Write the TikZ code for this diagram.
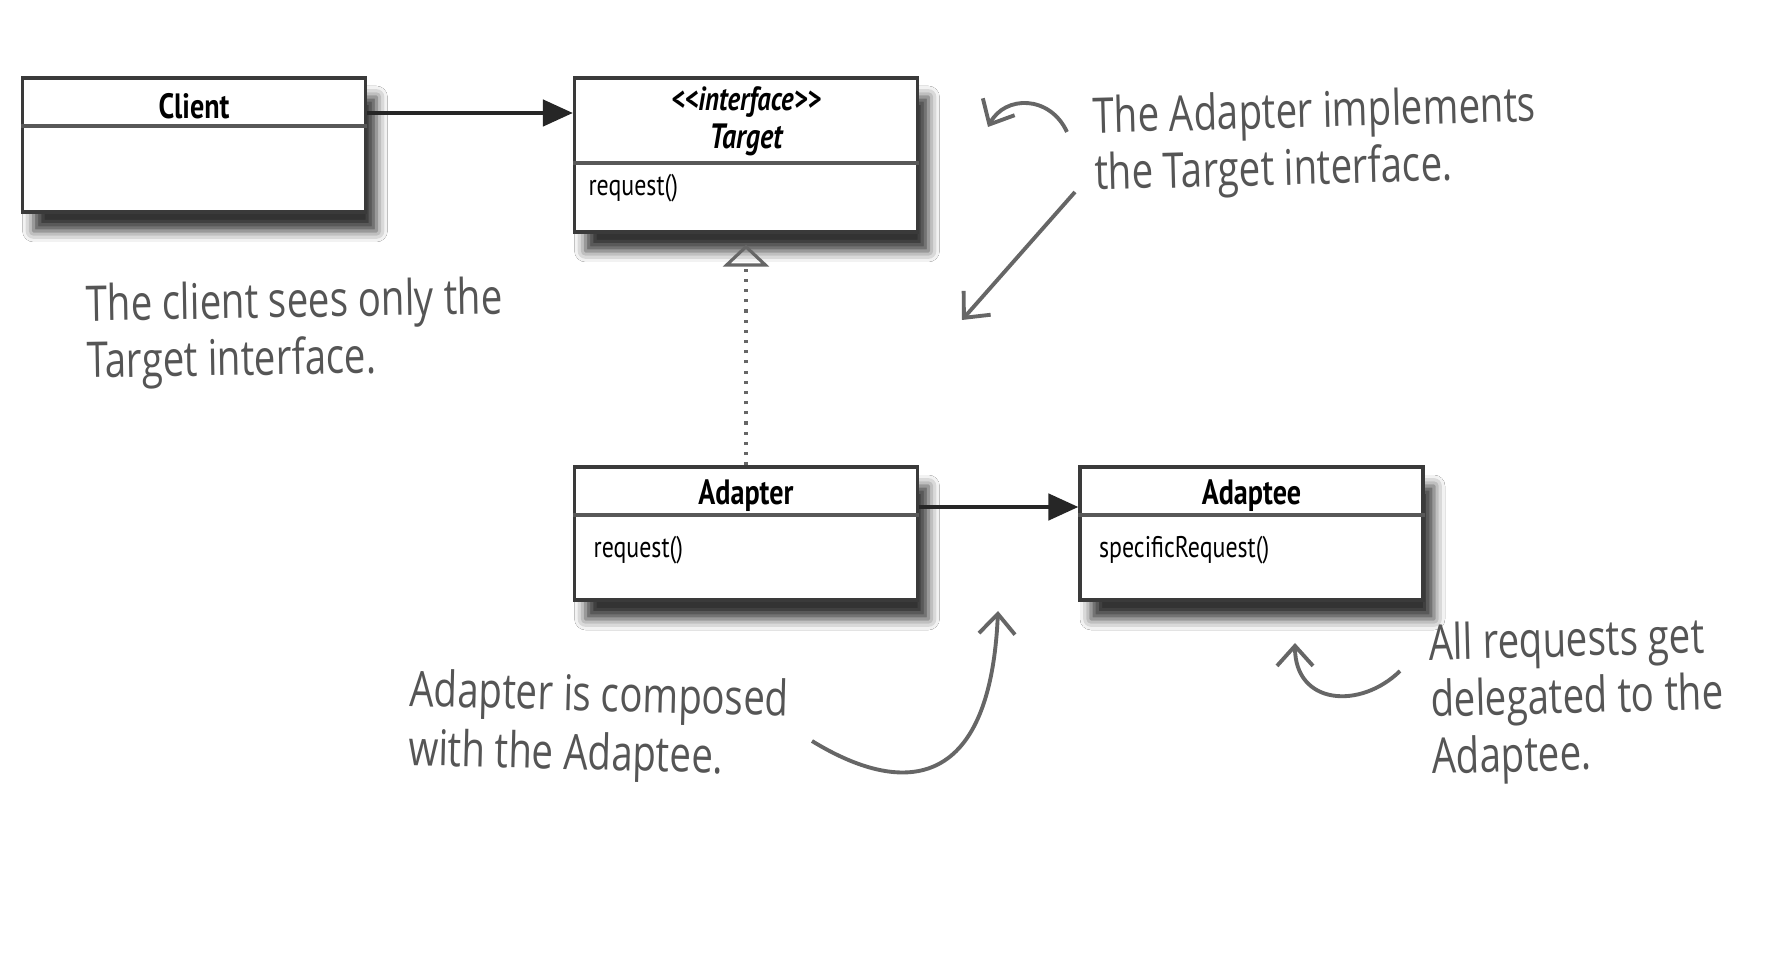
\documentclass[tikz,border=0pt]{standalone}
\usepackage{fontspec}
\usetikzlibrary{arrows.meta,shadows.blur,positioning}
\newfontfamily\umlfont[FakeStretch=0.8]{PT Sans}
\newfontfamily\handfont[FakeStretch=0.78]{Open Sans}
\definecolor{boxline}{HTML}{3A3A3A}
\definecolor{pencil}{HTML}{555555}

\tikzstyle{classbox}=[draw=boxline,line width=0.9pt,fill=white,minimum width=3.43cm,inner sep=0pt,
  blur shadow={shadow xshift=1.1mm,shadow yshift=-1.9mm,shadow blur radius=1.1mm,shadow opacity=80}]
\tikzstyle{classname}=[font=\umlfont\bfseries\fontsize{10}{12}\selectfont,inner sep=0pt]
\tikzstyle{operation}=[font=\umlfont\fontsize{8.5}{10}\selectfont,anchor=west,inner sep=0pt]
\tikzstyle{divider}=[draw=boxline!85,line width=1.1pt]
\tikzstyle{assoc}=[draw=black!85,line width=1.3pt,-{Triangle[length=3mm,width=2.6mm]}]
\tikzstyle{realize}=[draw=black!60,line width=0.9pt,dotted,-{Triangle[open,length=2.2mm,width=4.6mm,line width=0.9pt]}]
\tikzstyle{note}=[font=\handfont\fontsize{14}{16.2}\selectfont,text=pencil,align=left,inner sep=0pt,anchor=north west]
\tikzstyle{scribble}=[draw=pencil!90,line width=1.1pt,-{Straight Barb[length=2mm,width=3.6mm]}]

\begin{document}
\begin{tikzpicture}
  \fill[white] (0,0) rectangle (17.74,-9.53);
  \useasboundingbox (0,0) rectangle (17.74,-9.53);
  % First we draw the class boxes
  \foreach \pos/\name/\h in {{(1.94,-1.45)/client/1.34}, {(7.46,-1.55)/target/1.54},
      {(7.46,-5.335)/adapter/1.33}, {(12.515,-5.335)/adaptee/1.33}}
    \node[classbox,minimum height=\h cm] (\name) at \pos {};
  \foreach \name/\d in {client/0.5, target/0.87, adapter/0.5, adaptee/0.5}
    \path[divider] ([yshift=-\d cm]\name.north west) -- ([yshift=-\d cm]\name.north east);

  % Then the names and operations
  \node[classname] (client name) at ([yshift=-0.3cm]client.north) {Client};
  \node[classname,font=\umlfont\bfseries\itshape\fontsize{9.5}{12}\selectfont] (target stereo)
    at ([yshift=-0.26cm]target.north) {{<}{<}interface{>}{>}};
  \node[classname,font=\umlfont\bfseries\itshape\fontsize{10}{12}\selectfont] (target name)
    at ([yshift=-0.64cm]target.north) {Target};
  \node[classname] (adapter name) at ([yshift=-0.3cm]adapter.north) {Adapter};
  \node[classname] (adaptee name) at ([yshift=-0.3cm]adaptee.north) {Adaptee};
  \node[operation] (target op) at ([xshift=0.15cm,yshift=-1.12cm]target.north west) {request()};
  \node[operation] (adapter op) at ([xshift=0.2cm,yshift=-0.85cm]adapter.north west) {request()};
  \node[operation] (adaptee op) at ([xshift=0.2cm,yshift=-0.85cm]adaptee.north west) {specificRequest()};

  % Connect the classes
  \path[assoc] ([yshift=3.2mm]client.east) -- ([yshift=3.2mm]client.east -| target.west);
  \path[assoc] ([yshift=2.65mm]adapter.east) -- ([yshift=2.65mm]adapter.east -| adaptee.west);
  \path[realize] (adapter.north) -- ([yshift=-1.1mm]target.south);

  % Handwritten notes and their arrows
  \node[note,rotate=1] (client note) at (0.85,-2.83) {The client sees only the\\Target interface.};
  \node[note,rotate=1.5] (target note) at (10.92,-0.95) {The Adapter implements\\the Target interface.};
  \node[note,rotate=-1.5,font=\handfont\fontsize{14}{16.8}\selectfont] (adapter note) at (4.10,-6.68)
    {Adapter is composed\\with the Adaptee.};
  \node[note,rotate=1.5] (adaptee note) at (14.28,-6.22) {All requests get\\delegated to the\\Adaptee.};

  \coordinate (impl tail) at (10.67,-1.32);
  \coordinate (impl tip) at (9.88,-1.27);
  \coordinate (iface tail) at (10.75,-1.92);
  \coordinate (iface tip) at (9.62,-3.20);
  \coordinate (comp tail) at (8.12,-7.41);
  \coordinate (comp tip) at (9.98,-6.11);
  \coordinate (deleg tail) at (14.00,-6.71);
  \coordinate (deleg tip) at (12.95,-6.43);
  \path[scribble] (impl tail) .. controls (10.5,-0.95) and (10.05,-0.95) .. (impl tip);
  \path[scribble] (iface tail) -- (iface tip);
  \path[scribble] (comp tail) .. controls (9.0,-7.95) and (9.9,-7.95) .. (comp tip);
  \path[scribble] (deleg tail) .. controls (13.6,-7.1) and (12.95,-7.05) .. (deleg tip);
\end{tikzpicture}
\end{document}
